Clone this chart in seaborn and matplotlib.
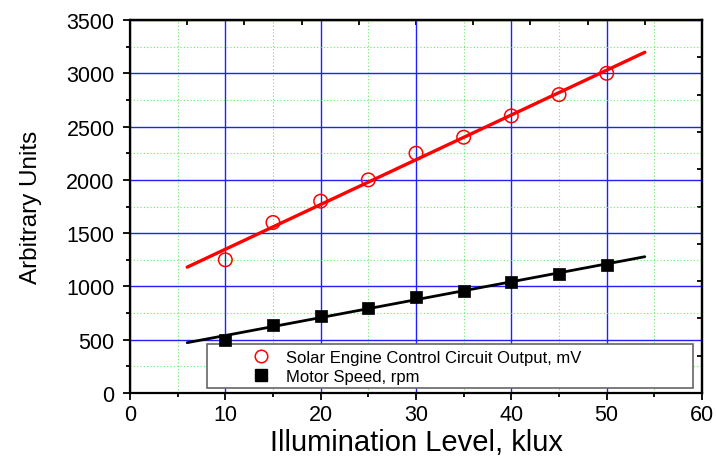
import numpy as np
import pandas as pd
import matplotlib
matplotlib.use("Agg")
import matplotlib.pyplot as plt
from matplotlib.patches import Rectangle
from matplotlib.lines import Line2D
import seaborn as sns

# ---- data ----
illum = [10, 15, 20, 25, 30, 35, 40, 45, 50]
circuit_mv = [1250, 1600, 1800, 2000, 2250, 2400, 2600, 2800, 3000]
motor_rpm = [500, 640, 720, 800, 900, 960, 1040, 1120, 1200]
fit_range = [6, 54]
label_circuit = "Solar Engine Control Circuit Output, mV"
label_motor = "Motor Speed, rpm"
xlabel = "Illumination Level, klux"
ylabel = "Arbitrary Units"
x_ticks = [0, 10, 20, 30, 40, 50, 60]
y_ticks = [0, 500, 1000, 1500, 2000, 2500, 3000, 3500]

sns.set_style("white")
plt.rcParams['font.family'] = ['Liberation Sans', 'DejaVu Sans']
plt.rcParams.update({
    "text.color": "black",
    "axes.labelcolor": "black",
    "xtick.color": "black",
    "ytick.color": "black",
    "xtick.labelcolor": "black",
    "ytick.labelcolor": "black",
})

df = pd.DataFrame({"x": illum, "circuit": circuit_mv, "motor": motor_rpm})

fig = plt.figure(figsize=(7.16, 4.64), dpi=100)
ax = fig.add_subplot(111)
fig.subplots_adjust(left=130/716, right=702/716, top=1-21/464, bottom=1-394/464)

# fit lines
xf = np.array(fit_range, dtype=float)
for col, color, lw in [("circuit", "#ff0000", 2.4), ("motor", "black", 2.0)]:
    k, b = np.polyfit(df["x"], df[col], 1)
    fit_df = pd.DataFrame({"x": xf, "y": k * xf + b})
    sns.lineplot(data=fit_df, x="x", y="y", ax=ax, color=color, lw=lw, zorder=4)

sns.scatterplot(data=df, x="x", y="circuit", ax=ax, marker="o", s=95,
                facecolors="none", edgecolor="#ff0000", linewidth=1.1, zorder=5)
sns.scatterplot(data=df, x="x", y="motor", ax=ax, marker="s", s=70,
                color="black", edgecolor="black", linewidth=0.5, zorder=5)

ax.set_xlim(0, 60)
ax.set_ylim(0, 3500)
ax.set_xticks(x_ticks)
ax.set_yticks(y_ticks)
ax.set_xticks(np.arange(5, 60, 10), minor=True)
ax.set_yticks(np.arange(250, 3500, 500), minor=True)

ax.grid(which="major", color="#2020ff", lw=1.0, zorder=0)
ax.grid(which="minor", color="#66ee66", lw=0.8, linestyle=(0, (1, 2)), zorder=0)
ax.set_axisbelow(True)

for s in ax.spines.values():
    s.set_visible(True)
    s.set_color("black")
    s.set_linewidth(1.6)

ax.tick_params(axis="x", which="major", direction="out", length=5, width=1.3,
               labelsize=15.5, pad=3, colors="black", bottom=True, top=False)
ax.tick_params(axis="x", which="minor", direction="out", length=3, width=1.3,
               bottom=True, top=False, colors="black")
ax.tick_params(axis="y", which="major", direction="out", length=5, width=1.3,
               labelsize=15.5, pad=6, colors="black", left=True, right=False)
ax.tick_params(axis="y", which="minor", direction="out", length=3, width=1.3,
               left=True, right=False, colors="black")

# top / right independent tick sets (inward)
secx = ax.secondary_xaxis("top")
secx.set_xticks(np.linspace(0, 60, 11))
secx.tick_params(direction="in", length=3.5, width=1.3, labeltop=False, colors="black")
secx.spines["top"].set_linewidth(1.6)
secx.spines["top"].set_color("black")
secy = ax.secondary_yaxis("right")
secy.set_yticks(np.linspace(0, 3500, 11))
secy.tick_params(direction="in", length=3.5, width=1.3, labelright=False, colors="black")
secy.spines["right"].set_linewidth(1.6)
secy.spines["right"].set_color("black")

ax.set_xlabel(xlabel, fontsize=21, color="black")
ax.set_ylabel(ylabel, fontsize=17.5, color="black")
ax.xaxis.set_label_coords(0.5, -0.093)
ax.yaxis.set_label_coords(-0.153, 0.5)

# legend box
rect = Rectangle((0.135, 0.013), 0.85, 0.118, transform=ax.transAxes,
                 facecolor="white", edgecolor="#666666", lw=1.2, zorder=3)
ax.add_patch(rect)
handles = [
    Line2D([], [], marker="o", linestyle="none", markerfacecolor="none",
           markeredgecolor="#ff0000", markersize=9, markeredgewidth=1.1),
    Line2D([], [], marker="s", linestyle="none", color="black", markersize=8),
]
leg = ax.legend(handles, [label_circuit, label_motor], loc="center left",
                bbox_to_anchor=(0.2, 0.07), frameon=False, fontsize=12,
                handlelength=1.0, handletextpad=1.0, borderpad=0,
                labelspacing=0.22, labelcolor="black")
leg.set_zorder(6)

fig.savefig("out.png", dpi=100)
